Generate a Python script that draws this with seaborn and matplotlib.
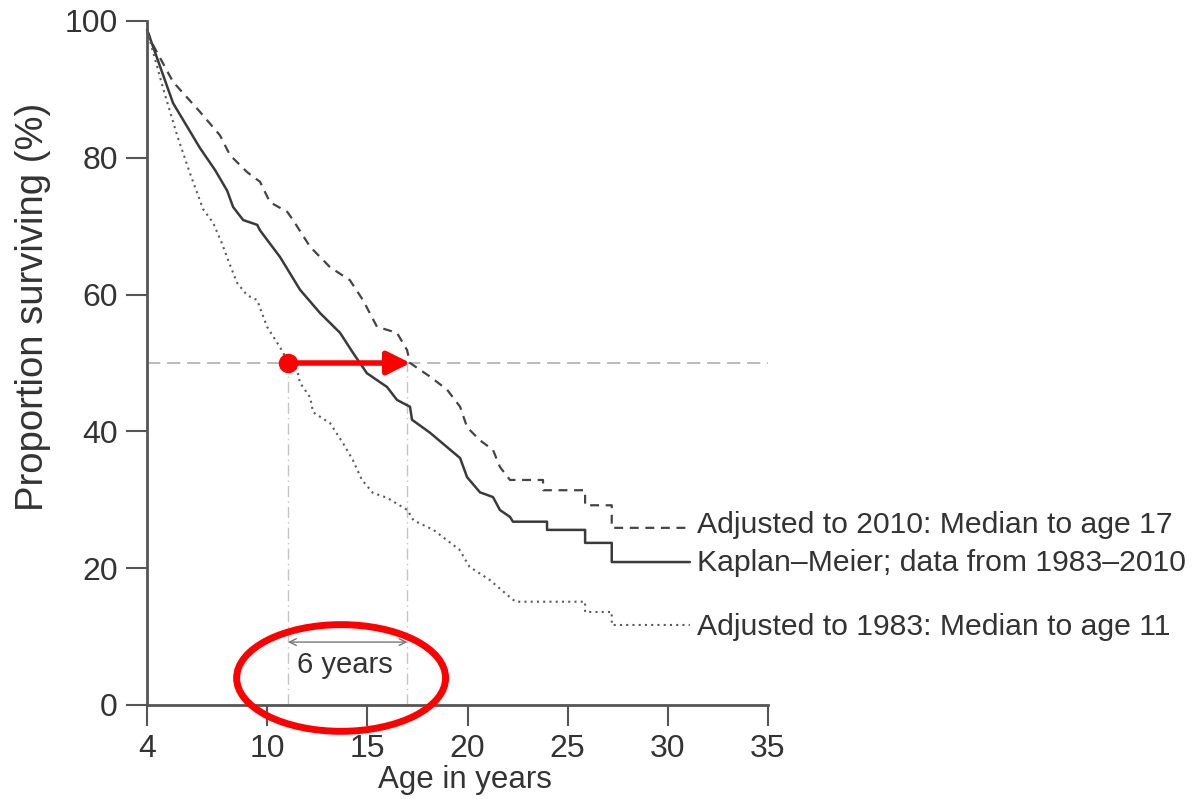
import matplotlib
matplotlib.use("Agg")
import matplotlib.pyplot as plt
from matplotlib.patches import Ellipse
import seaborn as sns
import pandas as pd

# ---- data ----
km_age = [4.0, 4.15, 5.3, 6.65, 7.4, 8.0, 8.3, 8.8, 9.5, 9.64, 10.64, 11.64, 12.64,
          13.64, 14.28, 14.98, 15.98, 16.48, 17.13, 17.23, 18.13, 18.98, 19.63, 19.98,
          20.62, 21.27, 21.62, 22.12, 22.27, 23.97, 23.97, 25.87, 25.87, 27.2, 27.2, 31.1]
km_pct = [98.7, 97.5, 88.0, 81.4, 78.2, 75.2, 72.8, 70.9, 70.2, 69.4, 65.5, 60.7, 57.3,
          54.4, 51.5, 48.5, 46.5, 44.6, 43.6, 41.7, 39.8, 37.7, 36.1, 33.3,
          31.1, 30.4, 28.5, 27.5, 26.8, 26.8, 25.6, 25.6, 23.7, 23.7, 20.9, 20.9]

adj2010_age = [4.0, 4.3, 5.3, 6.65, 7.64, 8.14, 9.0, 9.64, 10.14, 11.0, 11.29, 12.14, 13.14,
               14.13, 14.78, 15.48, 16.48, 16.98, 17.13, 18.13, 18.98, 19.63, 19.98, 20.62,
               21.27, 21.62, 22.12, 23.77, 23.77, 25.87, 25.87, 27.2, 27.2, 31.1]
adj2010_pct = [98.7, 96.5, 91.1, 86.7, 83.3, 80.4, 77.9, 76.5, 73.5, 72.1, 70.9, 67.0, 64.0,
               62.1, 59.2, 55.3, 54.4, 51.9, 50.0, 48.0, 46.1, 43.6, 40.6, 38.7,
               37.3, 34.8, 32.9, 32.9, 31.4, 31.4, 29.2, 29.2, 25.9, 25.9]

adj1983_age = [4.0, 4.3, 4.8, 5.5, 6.15, 6.8, 7.3, 7.74, 8.04, 8.5, 9.0, 9.5, 9.99, 10.64,
               11.04, 11.49, 11.64, 12.14, 12.29, 13.14, 13.78, 14.28, 14.73, 15.28, 15.98,
               17.0, 17.3, 18.3, 19.6, 20.1, 21.1, 22.1, 22.4, 25.87, 25.87, 27.2, 27.2, 31.1]
adj1983_pct = [98.7, 95.5, 90.2, 83.3, 77.7, 72.5, 70.5, 67.5, 65.1, 61.7, 59.9, 59.2, 55.3, 52.3,
               50.2, 49.0, 47.1, 45.0, 42.8, 41.2, 38.3, 35.8, 32.9, 31.0, 30.3,
               28.5, 27.0, 25.6, 22.7, 20.2, 18.3, 15.8, 15.1, 15.1, 13.6, 13.6, 11.7, 11.7]

labels = ["Adjusted to 2010: Median to age 17",
          "Kaplan\u2013Meier; data from 1983\u20132010",
          "Adjusted to 1983: Median to age 11"]
label_y = [26.3, 20.8, 11.4]

median_1983 = 11.04
median_2010 = 17.0
x_ticks = [4, 10, 15, 20, 25, 30, 35]
y_ticks = [0, 20, 40, 60, 80, 100]

# ---- style ----
sns.set_style("ticks")
plt.rcParams['font.family'] = ['Liberation Sans', 'DejaVu Sans']

fig = plt.figure(figsize=(12.01, 7.99), dpi=100)
ax = fig.add_axes([147/1201, 1 - 705/799, (768-147)/1201, (705-21)/799])

txt = "#333333"
axc = "#555555"

# reference lines
ax.plot([4, 35], [50, 50], color="#b0b0b0", lw=1.2, ls=(0, (8, 4)), zorder=1)
for m in [median_1983, median_2010]:
    ax.plot([m, m], [0, 50], color="#c4c4c4", lw=1.0, ls=(0, (8, 3, 1, 3)), zorder=1)

df_km = pd.DataFrame({"age": km_age, "pct": km_pct})
df_10 = pd.DataFrame({"age": adj2010_age, "pct": adj2010_pct})
df_83 = pd.DataFrame({"age": adj1983_age, "pct": adj1983_pct})

sns.lineplot(data=df_10, x="age", y="pct", sort=False, estimator=None, ax=ax,
             color="#444444", lw=1.6, linestyle=(0, (4, 3)), clip_on=False)
sns.lineplot(data=df_km, x="age", y="pct", sort=False, estimator=None, ax=ax,
             color="#3a3a3a", lw=1.8, clip_on=False)
sns.lineplot(data=df_83, x="age", y="pct", sort=False, estimator=None, ax=ax,
             color="#5a5a5a", lw=1.5, linestyle=(0, (1, 2)), clip_on=False)

for lab, yy in zip(labels, label_y):
    ax.text(31.45, yy, lab, fontsize=21.7, color=txt, va="center", ha="left", clip_on=False)

# red arrow + dot
ax.annotate("", xy=(17.15, 50), xytext=(median_1983, 50),
            arrowprops=dict(arrowstyle="-|>,head_length=1.0,head_width=0.5", color="red",
                            lw=4, shrinkA=0, shrinkB=0, mutation_scale=14), zorder=5)
ax.plot([median_1983], [50], marker="o", ms=13, color="red", zorder=6)

# 6 years bracket
ax.annotate("", xy=(median_2010, 9.2), xytext=(median_1983, 9.2),
            arrowprops=dict(arrowstyle="<->", color="#777777", lw=1.0,
                            shrinkA=0, shrinkB=0, mutation_scale=12))
ax.text(13.9, 5.85, "6 years", fontsize=21, color=txt, ha="center", va="center")

ell = Ellipse((13.69, 3.95), width=10.43, height=15.6, fill=False, edgecolor="red",
              lw=5, clip_on=False, zorder=7)
ax.add_patch(ell)

ax.set_xlim(4, 35)
ax.set_ylim(0, 100)
ax.set_xticks(x_ticks)
ax.set_yticks(y_ticks)
ax.tick_params(axis="both", labelsize=23, colors=axc, labelcolor=txt, length=15, width=1.5, pad=6)
for s in ["top", "right"]:
    ax.spines[s].set_visible(False)
for s in ["left", "bottom"]:
    ax.spines[s].set_color(axc)
    ax.spines[s].set_linewidth(2)
ax.set_xlabel("Age in years", fontsize=22.5, color=txt)
ax.xaxis.set_label_coords((465 - 147) / 621, -(780 - 705) / 684)
ax.set_ylabel("Proportion surviving (%)", fontsize=27.5, color=txt)
ax.yaxis.set_label_coords(-(147 - 33) / 621, (705 - 307) / 684)
ax.xaxis.label.set_va("center")
ax.yaxis.label.set_va("center")

fig.savefig("out.png", dpi=100)
